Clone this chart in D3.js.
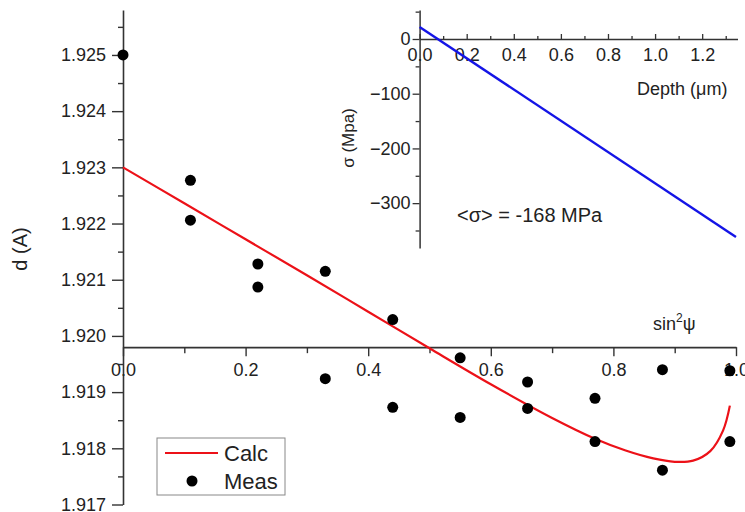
<!DOCTYPE html>
<html>
<head>
<meta charset="utf-8">
<script src="https://cdn.jsdelivr.net/npm/d3@7"></script>
<style>
  html, body { margin: 0; padding: 0; background: #fff; }
  svg { display: block; font-family: "Liberation Sans", Arial, sans-serif; }
  .axis path, .axis line { stroke: #333; }
  .axis text { fill: #222; }
</style>
</head>
<body>
<svg id="chart" width="745" height="512"></svg>
<script>
// Measured lattice spacing d (Å) against sin²ψ — two readings per tilt
const measSin2Psi = [0, 0.11, 0.11, 0.22, 0.22, 0.33, 0.33, 0.44, 0.44, 0.55, 0.55, 0.66, 0.66, 0.77, 0.77, 0.88, 0.88, 0.99, 0.99];
const measD = [1.92500, 1.92277, 1.92206, 1.92128, 1.92087, 1.92115, 1.91924, 1.92029, 1.91873,
               1.91961, 1.91855, 1.91918, 1.91871, 1.91889, 1.91812, 1.91940, 1.91761, 1.91938, 1.91812];

// Calculated d(sin²ψ) from the depth profile
const calcSin2Psi = [0, 0.1, 0.2, 0.3, 0.4, 0.5, 0.6, 0.7, 0.77, 0.82, 0.865, 0.9, 0.93, 0.958, 0.979, 0.99];
const calcD = [1.92300, 1.92236, 1.92172, 1.92108, 1.92043, 1.91978, 1.91914, 1.91854, 1.91817,
               1.91796, 1.91782, 1.91776, 1.91778, 1.91795, 1.91832, 1.91876];

// Main axes tick labels
const dTicks = [1.917, 1.918, 1.919, 1.920, 1.921, 1.922, 1.923, 1.924, 1.925];
const sinTicks = [0, 0.2, 0.4, 0.6, 0.8, 1.0];
const dAxisTop = 1.9258;
const sinAxisCross = 1.9198;

// Inset: stress profile σ (MPa) vs depth (µm)
const depthValues = [0, 1.3435];
const sigmaValues = [22, -362];
const depthTicks = [0, 0.2, 0.4, 0.6, 0.8, 1.0, 1.2];
const sigmaTicks = [0, -100, -200, -300];
const meanStressText = "<σ> = -168 MPa";

const legendLabels = ["Calc", "Meas"];

const svg = d3.select("#chart");
svg.append("rect").attr("width", 745).attr("height", 512).attr("fill", "#fff");

// ---------- main plot ----------
const x = d3.scaleLinear().domain([0, 1]).range([123, 736]);
const y = d3.scaleLinear().domain([1.917, dAxisTop]).range([504.5, 10]);

const minorD = d3.range(1.9175, dAxisTop, 0.001);
const minorSin = d3.range(0.1, 1.0, 0.2);

// y axis
svg.append("g").attr("class", "axis").attr("transform", `translate(${x(0)},0)`)
  .call(d3.axisLeft(y).tickValues(dTicks).tickFormat(d3.format(".3f"))
    .tickSizeInner(11).tickSizeOuter(0).tickPadding(6))
  .call(g => g.selectAll("text").attr("font-size", 18))
  .call(g => g.select(".domain").attr("stroke-width", 1.6))
  .call(g => g.selectAll(".tick line").attr("stroke-width", 1.4));
svg.append("g").attr("class", "axis").attr("transform", `translate(${x(0)},0)`)
  .call(d3.axisLeft(y).tickValues(minorD).tickFormat("").tickSize(5))
  .call(g => g.select(".domain").remove())
  .call(g => g.selectAll(".tick line").attr("stroke-width", 1.4));

// x axis crossing inside the plot
svg.append("g").attr("class", "axis").attr("transform", `translate(0,${y(sinAxisCross)})`)
  .call(d3.axisBottom(x).tickValues(sinTicks).tickFormat(d3.format(".1f"))
    .tickSizeInner(9).tickSizeOuter(0).tickPadding(7))
  .call(g => g.selectAll("text").attr("font-size", 18))
  .call(g => g.select(".domain").attr("stroke-width", 1.6))
  .call(g => g.selectAll(".tick line").attr("stroke-width", 1.4));
svg.append("g").attr("class", "axis").attr("transform", `translate(0,${y(sinAxisCross)})`)
  .call(d3.axisBottom(x).tickValues(minorSin).tickFormat("").tickSize(6))
  .call(g => g.select(".domain").remove())
  .call(g => g.selectAll(".tick line").attr("stroke-width", 1.4));

// axis titles
svg.append("text").attr("transform", "translate(27,249) rotate(-90)")
  .attr("text-anchor", "middle").attr("font-size", 20).attr("fill", "#222").text("d (A)");
const sinLabel = svg.append("text").attr("x", 653).attr("y", 330).attr("font-size", 18).attr("fill", "#222");
sinLabel.append("tspan").text("sin");
sinLabel.append("tspan").attr("dy", -8).attr("font-size", 12).text("2");
sinLabel.append("tspan").attr("dy", 8).text("ψ");

// calculated curve
const calc = calcSin2Psi.map((s, i) => [s, calcD[i]]);
svg.append("path").datum(calc)
  .attr("fill", "none").attr("stroke", "#ec1118").attr("stroke-width", 2.2)
  .attr("d", d3.line().x(d => x(d[0])).y(d => y(d[1])).curve(d3.curveCatmullRom.alpha(0.5)));

// measured points
svg.append("g").selectAll("circle")
  .data(measSin2Psi.map((s, i) => [s, measD[i]]))
  .join("circle")
  .attr("cx", d => x(d[0])).attr("cy", d => y(d[1])).attr("r", 5.5).attr("fill", "#000");

// legend
const lg = svg.append("g");
lg.append("rect").attr("x", 157).attr("y", 438).attr("width", 128).attr("height", 57)
  .attr("fill", "#fff").attr("stroke", "#888").attr("stroke-width", 1);
lg.append("line").attr("x1", 165).attr("x2", 218).attr("y1", 453).attr("y2", 453)
  .attr("stroke", "#ec1118").attr("stroke-width", 2.2);
lg.append("circle").attr("cx", 192).attr("cy", 481).attr("r", 5.5).attr("fill", "#000");
lg.selectAll("text.lab").data(legendLabels).join("text").attr("class", "lab")
  .attr("x", 224).attr("y", (d, i) => 461 + i * 28)
  .attr("font-size", 22).attr("fill", "#222").text(d => d);

// ---------- inset ----------
const xi = d3.scaleLinear().domain([0, 1.35]).range([419.6, 737.5]);
const yi = d3.scaleLinear().domain([-382, 53]).range([248, 10]);

svg.append("g").attr("class", "axis").attr("transform", `translate(${xi(0)},0)`)
  .call(d3.axisLeft(yi).tickValues(sigmaTicks).tickFormat(d3.format("d"))
    .tickSizeInner(7).tickSizeOuter(0).tickPadding(2))
  .call(g => g.selectAll("text").attr("font-size", 18))
  .call(g => g.select(".domain").attr("stroke-width", 1.5))
  .call(g => g.selectAll(".tick line").attr("stroke-width", 1.3));
svg.append("g").attr("class", "axis").attr("transform", `translate(${xi(0)},0)`)
  .call(d3.axisLeft(yi).tickValues([50, -50, -150, -250, -350]).tickFormat("").tickSize(4))
  .call(g => g.select(".domain").remove())
  .call(g => g.selectAll(".tick line").attr("stroke-width", 1.3));

svg.append("g").attr("class", "axis").attr("transform", `translate(0,${yi(0)})`)
  .call(d3.axisBottom(xi).tickValues(depthTicks).tickFormat(d3.format(".1f"))
    .tickSizeInner(-5).tickSizeOuter(0).tickPadding(9))
  .call(g => g.selectAll("text").attr("font-size", 18))
  .call(g => g.select(".domain").attr("stroke-width", 1.5))
  .call(g => g.selectAll(".tick line").attr("stroke-width", 1.3));
svg.append("g").attr("class", "axis").attr("transform", `translate(0,${yi(0)})`)
  .call(d3.axisBottom(xi).tickValues(d3.range(0.1, 1.35, 0.2)).tickFormat("").tickSize(-3))
  .call(g => g.select(".domain").remove())
  .call(g => g.selectAll(".tick line").attr("stroke-width", 1.3));

svg.append("text").attr("x", 637).attr("y", 95).attr("font-size", 18).attr("fill", "#222")
  .text("Depth (μm)");
svg.append("text").attr("transform", "translate(354,138) rotate(-90)")
  .attr("text-anchor", "middle").attr("font-size", 17).attr("fill", "#222").text("σ (Mpa)");
svg.append("text").attr("x", 457).attr("y", 222).attr("font-size", 20).attr("fill", "#222")
  .text(meanStressText);

svg.append("path").datum(depthValues.map((dv, i) => [dv, sigmaValues[i]]))
  .attr("fill", "none").attr("stroke", "#1414e6").attr("stroke-width", 2.4)
  .attr("d", d3.line().x(d => xi(d[0])).y(d => yi(d[1])));
</script>
</body>
</html>
